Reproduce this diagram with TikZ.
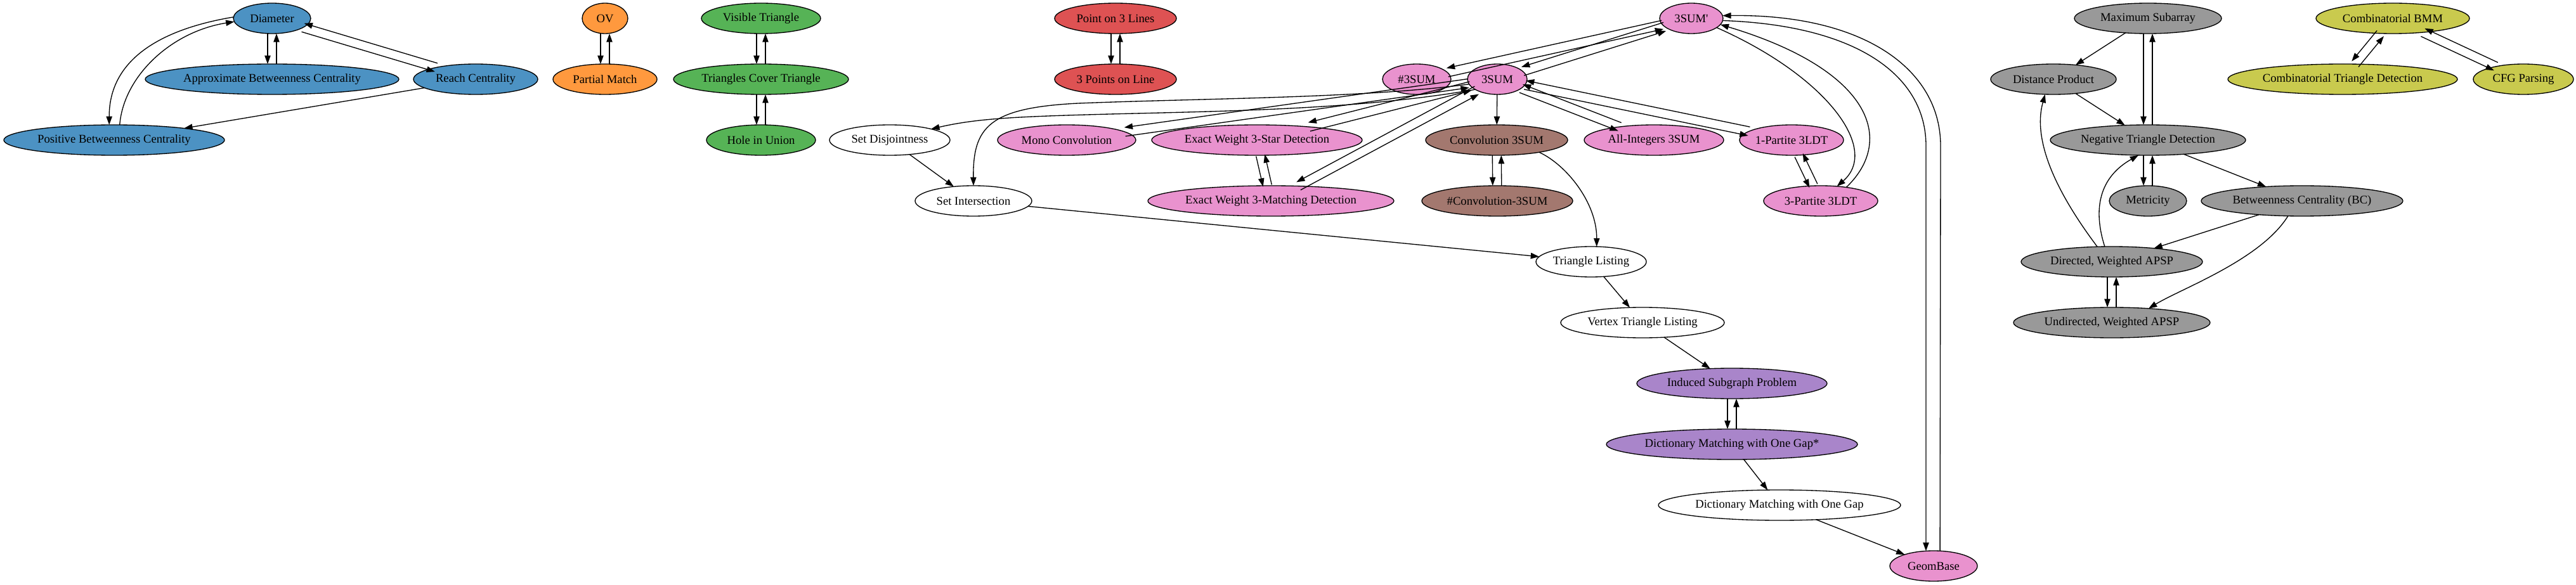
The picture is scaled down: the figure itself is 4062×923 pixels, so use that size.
\documentclass[tikz,border=0pt]{standalone}
\usepackage{fontspec}
\setmainfont{Liberation Serif}[Ligatures=TeXOff]
\usetikzlibrary{arrows.meta,shapes.geometric}
\definecolor{cblue}{HTML}{4C92C3}
\definecolor{corange}{HTML}{FF993E}
\definecolor{cgreen}{HTML}{56B356}
\definecolor{cred}{HTML}{DE5253}
\definecolor{cpurple}{HTML}{A985CA}
\definecolor{cbrown}{HTML}{A3786F}
\definecolor{cpink}{HTML}{E992CE}
\definecolor{cgray}{HTML}{999999}
\definecolor{colive}{HTML}{C9CA4E}
\begin{document}
\begin{tikzpicture}[x=0.75pt,y=-0.75pt,
  nd/.style={ellipse,draw=black,line width=1pt,inner sep=0pt,outer sep=0pt,minimum height=36pt,font=\fontsize{14pt}{16pt}\selectfont,fill=white},
  e/.style={-{Triangle[length=10pt,width=7pt]},line width=1pt,black},
]
\useasboundingbox (0,0) rectangle (4062,923);
% blue
\node[nd,fill=cblue,minimum width=91.5pt] (D) at (429,29) {Diameter};
\node[nd,fill=cblue,minimum width=300pt] (ABC) at (429,125) {Approximate Betweenness Centrality};
\node[nd,fill=cblue,minimum width=147pt] (RC) at (750,125) {Reach Centrality};
\node[nd,fill=cblue,minimum width=261pt] (PBC) at (180,221) {Positive Betweenness Centrality};
% orange
\node[nd,fill=corange,minimum width=54pt] (OV) at (954,29) {OV};
\node[nd,fill=corange,minimum width=123pt] (PM) at (954,125) {Partial Match};
% green
\node[nd,fill=cgreen,minimum width=141pt] (VT) at (1200,29) {Visible Triangle};
\node[nd,fill=cgreen,minimum width=207pt] (TCT) at (1200,125) {Triangles Cover Triangle};
\node[nd,fill=cgreen,minimum width=129pt] (HU) at (1200,221) {Hole in Union};
% red
\node[nd,fill=cred,minimum width=144pt] (P3L) at (1759,29) {Point on 3 Lines};
\node[nd,fill=cred,minimum width=144pt] (TPL) at (1759,125) {3 Points on Line};
% pink and others
\node[nd,fill=cpink,minimum width=75pt] (S3p) at (2667,29) {3SUM'};
\node[nd,fill=cpink,minimum width=81pt] (N3S) at (2234,125) {\#3SUM};
\node[nd,fill=cpink,minimum width=70.5pt] (S3) at (2361,125) {3SUM};
\node[nd,minimum width=142.5pt] (SD) at (1403,221) {Set Disjointness};
\node[nd,fill=cpink,minimum width=163.5pt] (MC) at (1682,221) {Mono Convolution};
\node[nd,fill=cpink,minimum width=249pt] (EWS) at (1982,221) {Exact Weight 3-Star Detection};
\node[nd,fill=cbrown,minimum width=168pt] (C3S) at (2360,221) {Convolution 3SUM};
\node[nd,fill=cpink,minimum width=165pt] (AI3) at (2608,221) {All-Integers 3SUM};
\node[nd,fill=cpink,minimum width=123pt] (P1) at (2825,221) {1-Partite 3LDT};
\node[nd,minimum width=138pt] (SI) at (1535,317) {Set Intersection};
\node[nd,fill=cpink,minimum width=291pt] (EWM) at (2004,317) {Exact Weight 3-Matching Detection};
\node[nd,fill=cbrown,minimum width=178.5pt] (NC3) at (2361,317) {\#Convolution-3SUM};
\node[nd,fill=cpink,minimum width=135pt] (P3) at (2871,317) {3-Partite 3LDT};
\node[nd,minimum width=130.5pt] (TL) at (2509,413) {Triangle Listing};
\node[nd,minimum width=193.5pt] (VTL) at (2590,509) {Vertex Triangle Listing};
\node[nd,fill=cpurple,minimum width=225pt] (ISP) at (2731,605) {Induced Subgraph Problem};
\node[nd,fill=cpurple,minimum width=297pt] (DMs) at (2731,701) {Dictionary Matching with One Gap*};
\node[nd,minimum width=286.5pt] (DM) at (2806,797) {Dictionary Matching with One Gap};
\node[nd,fill=cpink,minimum width=103.5pt] (GB) at (3049,893) {GeomBase};
% gray
\node[nd,fill=cgray,minimum width=174pt] (MS) at (3387,29) {Maximum Subarray};
\node[nd,fill=cgray,minimum width=148.5pt] (DP) at (3238,125) {Distance Product};
\node[nd,fill=cgray,minimum width=231pt] (NTD) at (3387,221) {Negative Triangle Detection};
\node[nd,fill=cgray,minimum width=91.5pt] (MET) at (3387,317) {Metricity};
\node[nd,fill=cgray,minimum width=238.5pt] (BC) at (3630,317) {Betweenness Centrality (BC)};
\node[nd,fill=cgray,minimum width=214.5pt] (DA) at (3330,413) {Directed, Weighted APSP};
\node[nd,fill=cgray,minimum width=232.5pt] (UA) at (3330,509) {Undirected, Weighted APSP};
% olive
\node[nd,fill=colive,minimum width=181.5pt] (BMM) at (3773,29) {Combinatorial BMM};
\node[nd,fill=colive,minimum width=271.5pt] (CTD) at (3694,125) {Combinatorial Triangle Detection};
\node[nd,fill=colive,minimum width=118.5pt] (CFG) at (3979,125) {CFG Parsing};

% ---- edges: blue
\draw[e,transform canvas={shift={(-7,0)}}] (D) -- (ABC);
\draw[e,transform canvas={shift={(7,0)}}] (ABC) -- (D);
\draw[e,transform canvas={shift={(-2,6.7)}}] (D) -- (RC);
\draw[e,transform canvas={shift={(2,-6.7)}}] (RC) -- (D);
\draw[e] (D.178) .. controls (260,45) and (172,90) .. (PBC.108);
\draw[e] (PBC.70) .. controls (195,120) and (270,50) .. (D.185);
\draw[e] (RC) -- (PBC);
% orange, green, red
\draw[e,transform canvas={shift={(-7,0)}}] (OV) -- (PM);
\draw[e,transform canvas={shift={(7,0)}}] (PM) -- (OV);
\draw[e,transform canvas={shift={(-7,0)}}] (VT) -- (TCT);
\draw[e,transform canvas={shift={(7,0)}}] (TCT) -- (VT);
\draw[e,transform canvas={shift={(-7,0)}}] (TCT) -- (HU);
\draw[e,transform canvas={shift={(7,0)}}] (HU) -- (TCT);
\draw[e,transform canvas={shift={(-7,0)}}] (P3L) -- (TPL);
\draw[e,transform canvas={shift={(7,0)}}] (TPL) -- (P3L);
% pink
\draw[e,transform canvas={shift={(-1.5,-6.8)}}] (S3p) -- (N3S);
\draw[e,transform canvas={shift={(1.5,6.8)}}] (N3S) -- (S3p);
\draw[e,transform canvas={shift={(-2.1,-6.7)}}] (S3p) -- (S3);
\draw[e,transform canvas={shift={(2.1,6.7)}}] (S3) -- (S3p);
\draw[e] (S3p.-20) .. controls (2880,120) and (2965,235) .. (P3.42);
\draw[e] (P3.28) .. controls (2990,220) and (2950,110) .. (S3p.-12);
\draw[e] (S3p.-4) .. controls (2930,40) and (3037,120) .. (3037,230) -- (GB.117);
\draw[e] (GB.67) -- (3060,230) .. controls (3060,110) and (2940,22) .. (S3p.5);
\draw[e] (S3) -- (C3S);
\draw[e,transform canvas={shift={(-2.5,6.5)}}] (S3) -- (AI3);
\draw[e,transform canvas={shift={(2.5,-6.5)}}] (AI3) -- (S3);
\draw[e,transform canvas={shift={(-1.4,6.9)}}] (S3) -- (P1);
\draw[e,transform canvas={shift={(1.4,-6.9)}}] (P1) -- (S3);
\draw[e,transform canvas={shift={(-6.3,3)}}] (P1) -- (P3);
\draw[e,transform canvas={shift={(6.3,-3)}}] (P3) -- (P1);
\draw[e,transform canvas={shift={(-1,-6.9)}}] (S3) -- (MC);
\draw[e,transform canvas={shift={(1,6.9)}}] (MC) -- (S3);
\draw[e,transform canvas={shift={(-1.7,-6.8)}}] (S3) -- (EWS);
\draw[e,transform canvas={shift={(1.7,6.8)}}] (EWS) -- (S3);
\draw[e,transform canvas={shift={(-3.3,-6.2)}}] (S3) -- (EWM);
\draw[e,transform canvas={shift={(3.3,6.2)}}] (EWM) -- (S3);
\draw[e,transform canvas={shift={(-6.8,1.6)}}] (EWS) -- (EWM);
\draw[e,transform canvas={shift={(6.8,-1.6)}}] (EWM) -- (EWS);
\draw[e] (S3.205) .. controls (2150,172) and (1950,175) .. (1750,180) .. controls (1600,184) and (1540,187) .. (SD.15);
\draw[e] (S3.190) .. controls (2150,155) and (1900,155) .. (1700,163) .. controls (1560,170) and (1534,200) .. (SI.north);
\draw[e] (SD) -- (SI);
\draw[e] (SI) -- (TL);
\draw[e] (C3S.-16) .. controls (2470,260) and (2518,320) .. (TL.70);
\draw[e,transform canvas={shift={(-7,0)}}] (C3S) -- (NC3);
\draw[e,transform canvas={shift={(7,0)}}] (NC3) -- (C3S);
\draw[e] (TL) -- (VTL);
\draw[e] (VTL) -- (ISP);
\draw[e,transform canvas={shift={(-7,0)}}] (ISP) -- (DMs);
\draw[e,transform canvas={shift={(7,0)}}] (DMs) -- (ISP);
\draw[e] (DMs) -- (DM);
\draw[e] (DM) -- (GB);
% gray
\draw[e] (MS) -- (DP);
\draw[e,transform canvas={shift={(-7,0)}}] (MS) -- (NTD);
\draw[e,transform canvas={shift={(7,0)}}] (NTD) -- (MS);
\draw[e] (DP) -- (NTD);
\draw[e,transform canvas={shift={(-7,0)}}] (NTD) -- (MET);
\draw[e,transform canvas={shift={(7,0)}}] (MET) -- (NTD);
\draw[e] (NTD) -- (BC);
\draw[e] (BC) -- (DA);
\draw[e] (BC.-133) .. controls (3565,410) and (3440,455) .. (UA.21);
\draw[e] (DA.134) .. controls (3240,300) and (3205,220) .. (DP.-119);
\draw[e] (DA.115) .. controls (3300,330) and (3310,280) .. (NTD.-122);
\draw[e,transform canvas={shift={(-7,0)}}] (DA) -- (UA);
\draw[e,transform canvas={shift={(7,0)}}] (UA) -- (DA);
% olive
\draw[e,transform canvas={shift={(-5.4,-4.4)}}] (BMM) -- (CTD);
\draw[e,transform canvas={shift={(5.4,4.4)}}] (CTD) -- (BMM);
\draw[e,transform canvas={shift={(-3,6.3)}}] (BMM) -- (CFG);
\draw[e,transform canvas={shift={(3,-6.3)}}] (CFG) -- (BMM);
\end{tikzpicture}
\end{document}
